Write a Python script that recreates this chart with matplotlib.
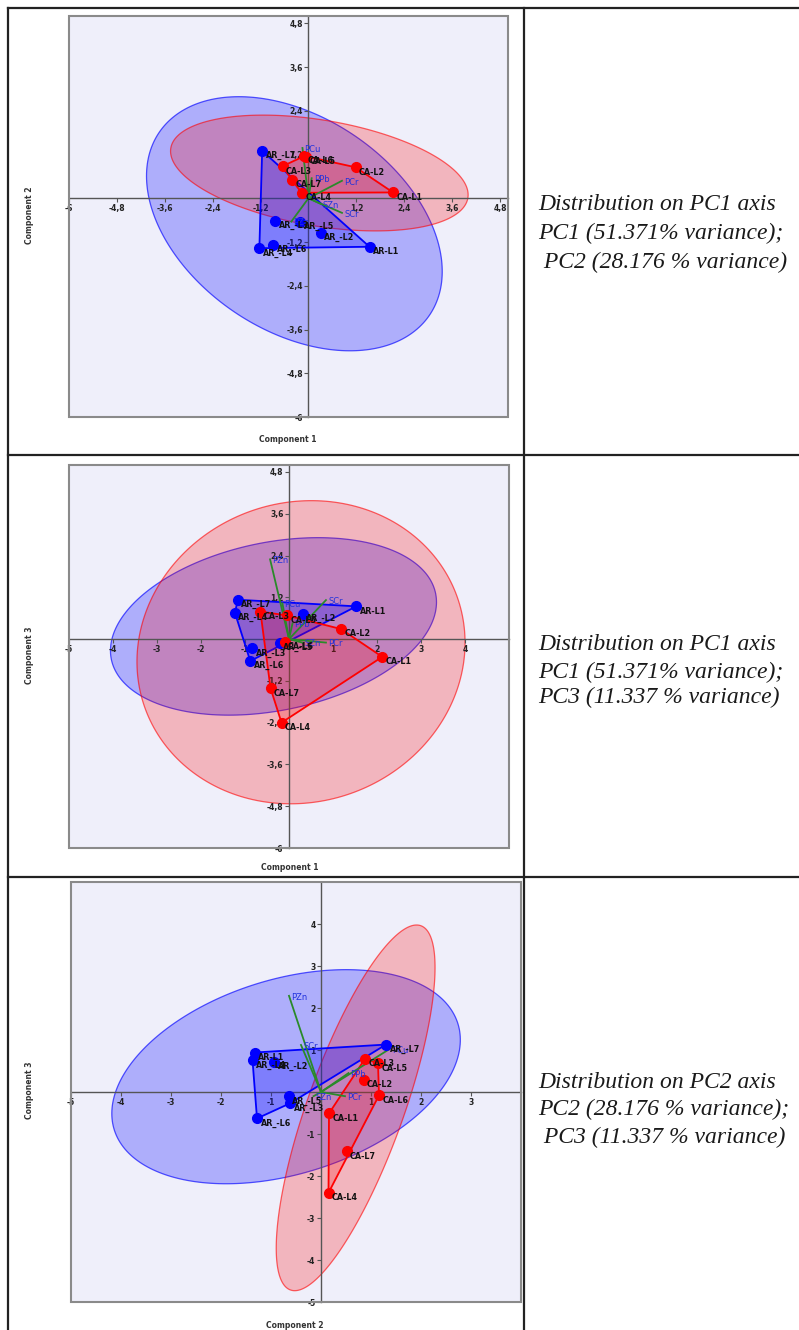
import numpy as np
import matplotlib.pyplot as plt
from matplotlib.patches import Polygon, Rectangle
from matplotlib.lines import Line2D
from matplotlib.ticker import FuncFormatter

# ==============================================================================
# DATA (PCA scores and loadings)
# ==============================================================================

ar_names = ['AR-L1', 'AR_-L2', 'AR_-L3', 'AR_-L4', 'AR_-L5', 'AR_-L6', 'AR_-L7']
ar_pc1 = [1.53, 0.31, -0.83, -1.23, -0.21, -0.88, -1.16]
ar_pc2 = [-1.33, -0.94, -0.62, -1.37, -0.65, -1.28, 1.30]
ar_pc3 = [0.94, 0.72, -0.27, 0.76, -0.10, -0.63, 1.13]

ca_names = ['CA-L1', 'CA-L2', 'CA-L3', 'CA-L4', 'CA-L5', 'CA-L6', 'CA-L7']
ca_pc1 = [2.12, 1.18, -0.65, -0.17, -0.05, -0.10, -0.42]
ca_pc2 = [0.16, 0.85, 0.88, 0.15, 1.14, 1.16, 0.51]
ca_pc3 = [-0.51, 0.29, 0.79, -2.40, 0.68, -0.08, -1.41]

var_names = ['PZn', 'PCu', 'SCr', 'PCr', 'PPb', 'SZn']
var_pc1 = [-0.43, -0.15, 0.84, 0.84, 0.08, 0.30]
var_pc2 = [-0.64, 1.38, -0.40, 0.48, 0.55, -0.15]
var_pc3 = [2.29, 1.03, 1.12, -0.10, 0.45, -0.10]

ticks_12 = [-6, -4.8, -3.6, -2.4, -1.2, 1.2, 2.4, 3.6, 4.8]
ticks_int5 = [-5, -4, -3, -2, -1, 1, 2, 3, 4]
ticks_int3 = [-5, -4, -3, -2, -1, 1, 2, 3]
ticks_y3 = [-5, -4, -3, -2, -1, 1, 2, 3, 4]

captions = [
    ['Distribution on PC1 axis', 'PC1 (51.371% variance);', ' PC2 (28.176 % variance)'],
    ['Distribution on PC1 axis', 'PC1 (51.371% variance);', 'PC3 (11.337 % variance)'],
    ['Distribution on PC2 axis', 'PC2 (28.176 % variance);', ' PC3 (11.337 % variance)'],
]

W, H = 799, 1330


def fx(px):
    return px / W


def fy(py):
    return 1 - py / H


def conf_ellipse(x, y, n_pts=240):
    """95% ellipse (F based, as in PAST) around a group of scores"""
    x = np.asarray(x)
    y = np.asarray(y)
    n = len(x)
    f = (0.05 ** (-2.0 / (n - 2)) - 1) * (n - 2) / 2.0
    k = np.sqrt(2.0 * (n - 1) / (n - 2) * f)
    vals, vecs = np.linalg.eigh(np.cov(x, y))
    t = np.linspace(0, 2 * np.pi, n_pts)
    circ = np.vstack([np.cos(t), np.sin(t)])
    pts = vecs @ (np.sqrt(vals)[:, None] * circ) * k
    return np.column_stack([pts[0] + x.mean(), pts[1] + y.mean()])


def convex_hull(x, y):
    pts = sorted(set(zip(x, y)))

    def cross(o, a, b):
        return (a[0] - o[0]) * (b[1] - o[1]) - (a[1] - o[1]) * (b[0] - o[0])

    lower, upper = [], []
    for p in pts:
        while len(lower) >= 2 and cross(lower[-2], lower[-1], p) <= 0:
            lower.pop()
        lower.append(p)
    for p in reversed(pts):
        while len(upper) >= 2 and cross(upper[-2], upper[-1], p) <= 0:
            upper.pop()
        upper.append(p)
    return np.array(lower[:-1] + upper[:-1])


def biplot(ax, ax_x, ax_y, cx, cy, vx, vy, xlim, ylim, xticks, yticks):

    ax.set_facecolor('#EFEFFA')
    ax.set_xlim(xlim)
    ax.set_ylim(ylim)

    # group ellipses
    ax.add_patch(Polygon(conf_ellipse(ax_x, ax_y), closed=True, fc=(0, 0, 1, 0.27),
                         ec=(0, 0, 1, 0.65), lw=0.9, zorder=1))
    ax.add_patch(Polygon(conf_ellipse(cx, cy), closed=True, fc=(1, 0, 0, 0.24),
                         ec=(1, 0, 0, 0.6), lw=0.9, zorder=1))

    # convex hulls
    ax.add_patch(Polygon(convex_hull(ax_x, ax_y), closed=True, fc=(0, 0, 1, 0.27),
                         ec='#0000FF', lw=1.3, zorder=3))
    ax.add_patch(Polygon(convex_hull(cx, cy), closed=True, fc=(1, 0, 0, 0.22),
                         ec='#FF0000', lw=1.3, zorder=3))

    # loadings
    for name, lx, ly in zip(var_names, vx, vy):
        ax.plot([0, lx], [0, ly], color='#2A8A2A', lw=1.3, zorder=4)
        ax.annotate(name, (lx, ly), xytext=(1.5, -1), textcoords='offset points',
                    ha='left', va='center', fontsize=6, color='#2233DD', zorder=6)

    ax.plot(ax_x, ax_y, 'o', color='#0000FF', ms=7, zorder=5)
    ax.plot(cx, cy, 'o', color='#FF0000', ms=7, zorder=5)

    for names, xs, ys in ((ar_names, ax_x, ax_y), (ca_names, cx, cy)):
        for name, px, py in zip(names, xs, ys):
            ax.annotate(name, (px, py), xytext=(2.5, -3.5), textcoords='offset points',
                        ha='left', va='center', fontsize=5.8, fontweight='bold',
                        color='#111111', zorder=6)

    # axes crossing at the origin
    for side in ('top', 'right'):
        ax.spines[side].set_visible(False)
    for side in ('left', 'bottom'):
        ax.spines[side].set_position(('data', 0))
        ax.spines[side].set_color('#555555')
        ax.spines[side].set_linewidth(1.0)
        ax.spines[side].set_zorder(2)
    ax.set_xticks(xticks)
    ax.set_yticks(yticks)
    fmt = FuncFormatter(lambda v, p: f'{round(v, 1):g}'.replace('.', ','))
    ax.xaxis.set_major_formatter(fmt)
    ax.yaxis.set_major_formatter(fmt)
    ax.tick_params(length=3, width=0.8, color='#555555', labelsize=5.5,
                   labelcolor='#222222', pad=1)
    for lab in ax.get_xticklabels() + ax.get_yticklabels():
        lab.set_fontweight('bold')
    ax.add_patch(Rectangle((0, 0), 1, 1, transform=ax.transAxes, fill=False,
                           ec='#8A8A8A', lw=1.5, clip_on=False, zorder=7))


fig = plt.figure(figsize=(W / 100, H / 100), dpi=100)

# table grid
line_kw = dict(color='#222222', lw=1.6, transform=fig.transFigure)
fig.add_artist(Line2D([fx(8), fx(8)], [fy(8), fy(1330)], **line_kw))
fig.add_artist(Line2D([fx(524), fx(524)], [fy(8), fy(1330)], **line_kw))
for yy in (8, 455, 876.5):
    fig.add_artist(Line2D([fx(8), fx(799)], [fy(yy), fy(yy)], **line_kw))

# (left, top, right, bottom) in pixels
boxes = [(69, 16, 508, 417), (69, 465, 509, 848), (71, 882, 521, 1302)]
axes = []
for l, t, r, b in boxes:
    axes.append(fig.add_axes([fx(l), fy(b), (r - l) / W, (b - t) / H]))

biplot(axes[0], ar_pc1, ar_pc2, ca_pc1, ca_pc2, var_pc1, var_pc2,
       (-6, 5), (-6, 5), ticks_12, ticks_12)
biplot(axes[1], ar_pc1, ar_pc3, ca_pc1, ca_pc3, var_pc1, var_pc3,
       (-5, 5), (-6, 5), ticks_int5, ticks_12)
biplot(axes[2], ar_pc2, ar_pc3, ca_pc2, ca_pc3, var_pc2, var_pc3,
       (-5, 4), (-5, 5), ticks_int3, ticks_y3)

lab_kw = dict(fontsize=5.5, fontweight='bold', color='#333333', ha='center', va='center')
fig.text(fx(288), fy(440), 'Component 1', **lab_kw)
fig.text(fx(30), fy(215), 'Component 2', rotation=90, **lab_kw)
fig.text(fx(290), fy(868), 'Component 1', **lab_kw)
fig.text(fx(30), fy(655), 'Component 3', rotation=90, **lab_kw)
fig.text(fx(295), fy(1325), 'Component 2', **lab_kw)
fig.text(fx(30), fy(1090), 'Component 3', rotation=90, **lab_kw)

caption_y = [[204, 233, 262], [645, 672, 697], [1082, 1109, 1137]]
for lines, ys in zip(captions, caption_y):
    for txt, yy in zip(lines, ys):
        fig.text(fx(538), fy(yy), txt, fontsize=17, fontstyle='italic',
                 family='Liberation Serif', color='#1A1A1A', ha='left', va='center')

fig.savefig('out.png', dpi=100)
